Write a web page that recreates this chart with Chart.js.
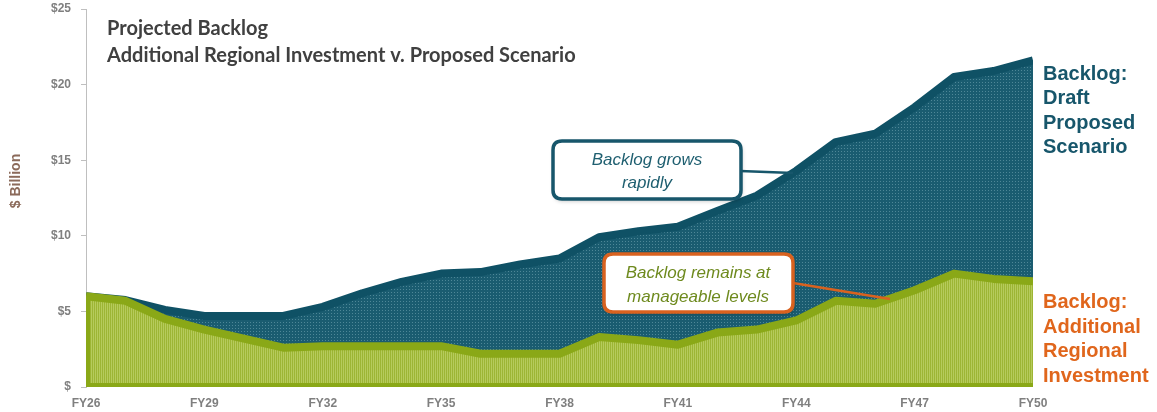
<!DOCTYPE html>
<html>
<head>
<meta charset="utf-8">
<script src="https://cdn.jsdelivr.net/npm/chart.js@4.4.1/dist/chart.umd.min.js"></script>
<style>
  html, body { margin: 0; padding: 0; background: #ffffff; }
  #wrap { width: 1157px; height: 412px; position: relative; }
</style>
</head>
<body>
<div id="wrap"><canvas id="c" width="1157" height="412"></canvas></div>
<script>
// ---- Data ----
const categories = ['FY26','FY27','FY28','FY29','FY30','FY31','FY32','FY33','FY34','FY35','FY36','FY37','FY38',
                    'FY39','FY40','FY41','FY42','FY43','FY44','FY45','FY46','FY47','FY48','FY49','FY50'];
const additionalRegionalInvestment = [6.0, 5.7, 4.5, 3.8, 3.2, 2.6, 2.7, 2.7, 2.7, 2.7, 2.2, 2.2, 2.2,
                                      3.3, 3.1, 2.8, 3.6, 3.8, 4.4, 5.7, 5.5, 6.4, 7.5, 7.15, 7.0];
const draftProposedScenario = [6.0, 5.75, 5.1, 4.7, 4.7, 4.7, 5.3, 6.2, 6.95, 7.5, 7.6, 8.1, 8.5,
                               9.9, 10.3, 10.6, 11.65, 12.65, 14.3, 16.2, 16.75, 18.5, 20.5, 20.9, 21.6];
const yTicks = [0, 5, 10, 15, 20, 25];
const shownXLabels = ['FY26','FY29','FY32','FY35','FY38','FY41','FY44','FY47','FY50'];

const titleLines = ['Projected Backlog', 'Additional Regional Investment v. Proposed Scenario'];
const yTitle = '$ Billion';
const blueLabel = ['Backlog:', 'Draft', 'Proposed', 'Scenario'];
const orangeLabel = ['Backlog:', 'Additional', 'Regional', 'Investment'];
const noteGrow = ['Backlog grows', 'rapidly'];
const noteManage = ['Backlog remains at', 'manageable levels'];

// ---- Textured fills ----
function makePattern(w, h, draw) {
  const c = document.createElement('canvas');
  c.width = w; c.height = h;
  const x = c.getContext('2d');
  draw(x);
  return x.createPattern(c, 'repeat');
}
const ctx = document.getElementById('c').getContext('2d');
const bluePattern = makePattern(3, 3, x => {
  x.fillStyle = '#1a5c70'; x.fillRect(0, 0, 3, 3);
  x.fillStyle = '#4e8797'; x.fillRect(1, 1, 1, 1);
});
const greenPattern = makePattern(2, 2, x => {
  x.fillStyle = '#9db534'; x.fillRect(0, 0, 2, 2);
  x.fillStyle = '#b6cb5c'; x.fillRect(1, 0, 1, 2);
});

const BLUE_EDGE = '#0f5165';
const GREEN_EDGE = '#8aa817';

// ---- Decoration plugin ----
function roundRect(c, x, y, w, h, r) {
  c.beginPath();
  c.moveTo(x + r, y);
  c.lineTo(x + w - r, y);
  c.quadraticCurveTo(x + w, y, x + w, y + r);
  c.lineTo(x + w, y + h - r);
  c.quadraticCurveTo(x + w, y + h, x + w - r, y + h);
  c.lineTo(x + r, y + h);
  c.quadraticCurveTo(x, y + h, x, y + h - r);
  c.lineTo(x, y + r);
  c.quadraticCurveTo(x, y, x + r, y);
  c.closePath();
}

const deco = {
  id: 'deco',
  afterDatasetsDraw(chart) {
    const c = chart.ctx, a = chart.chartArea;
    const ys = chart.scales.y;
    c.save();
    c.fillStyle = GREEN_EDGE;
    c.fillRect(a.left, a.bottom - 4, a.right - a.left, 4);
    const yTop = ys.getPixelForValue(additionalRegionalInvestment[0]);
    c.fillRect(a.left, yTop, 4, a.bottom - yTop);
    c.restore();
  },
  afterDraw(chart) {
    const c = chart.ctx;
    c.save();
    // Title
    c.fillStyle = '#404040';
    c.textBaseline = 'alphabetic';
    c.textAlign = 'left';
    c.font = 'bold 20px Lato, "DejaVu Sans", sans-serif';
    const w2 = c.measureText(titleLines[1]).width;
    const sx = Math.min(1, 499 / w2);
    c.save();
    c.translate(107, 0);
    c.scale(sx, 1);
    c.fillText(titleLines[0], 0, 35);
    c.fillText(titleLines[1], 0, 62);
    c.restore();

    // Y axis title
    c.save();
    c.translate(16, 181);
    c.rotate(-Math.PI / 2);
    c.textAlign = 'center';
    c.textBaseline = 'middle';
    c.fillStyle = '#8b6a5a';
    c.font = 'bold 14px "Liberation Sans", Arial, sans-serif';
    c.fillText(yTitle, 0, 0);
    c.restore();

    // Right side labels
    c.font = 'bold 20px "Liberation Sans", Arial, sans-serif';
    c.textAlign = 'left';
    c.fillStyle = '#17566b';
    blueLabel.forEach((t, i) => c.fillText(t, 1043, 80 + i * 24.3));
    c.fillStyle = '#e0661c';
    orangeLabel.forEach((t, i) => c.fillText(t, 1043, 308 + i * 24.5));

    // Connectors
    c.lineCap = 'butt';
    c.strokeStyle = '#17566b';
    c.lineWidth = 2.5;
    c.beginPath(); c.moveTo(740, 171); c.lineTo(793, 173); c.stroke();
    c.strokeStyle = '#d9621f';
    c.lineWidth = 2.5;
    c.beginPath(); c.moveTo(793, 283); c.lineTo(890, 299); c.stroke();

    // Callout boxes
    function box(x, y, w, h, stroke) {
      c.save();
      c.shadowColor = 'rgba(0,0,0,0.25)';
      c.shadowBlur = 4;
      c.shadowOffsetX = 1;
      c.shadowOffsetY = 2;
      roundRect(c, x, y, w, h, 9);
      c.fillStyle = '#ffffff';
      c.fill();
      c.restore();
      roundRect(c, x, y, w, h, 9);
      c.strokeStyle = stroke;
      c.lineWidth = 3.5;
      c.stroke();
    }
    box(553, 141, 188, 58, '#17566b');
    box(604, 254, 189, 58, '#d9621f');

    c.font = 'italic 17px "Liberation Sans", Arial, sans-serif';
    c.textAlign = 'center';
    c.fillStyle = '#1f5f70';
    c.fillText(noteGrow[0], 647, 165);
    c.fillText(noteGrow[1], 647, 188);
    c.fillStyle = '#6e8a1e';
    c.fillText(noteManage[0], 698, 278);
    c.fillText(noteManage[1], 698, 302);
    c.restore();
  }
};

new Chart(ctx, {
  type: 'line',
  data: {
    labels: categories,
    datasets: [
      {
        label: 'Backlog: Additional Regional Investment',
        data: additionalRegionalInvestment,
        borderColor: GREEN_EDGE,
        backgroundColor: greenPattern,
        borderWidth: 8,
        borderJoinStyle: 'round',
        fill: 'origin',
        tension: 0,
        pointRadius: 0,
        clip: 0,
        order: 0
      },
      {
        label: 'Backlog: Draft Proposed Scenario',
        data: draftProposedScenario,
        borderColor: BLUE_EDGE,
        backgroundColor: bluePattern,
        borderWidth: 8,
        borderJoinStyle: 'round',
        fill: 'origin',
        tension: 0,
        pointRadius: 0,
        clip: 0,
        order: 1
      }
    ]
  },
  options: {
    responsive: false,
    animation: false,
    devicePixelRatio: 1,
    layout: { padding: { top: 9, right: 124, left: 0, bottom: 0 } },
    plugins: { legend: { display: false }, tooltip: { enabled: false }, title: { display: false } },
    scales: {
      x: {
        type: 'category',
        offset: false,
        grid: { display: false, drawTicks: false },
        border: { display: false },
        ticks: {
          autoSkip: false,
          maxRotation: 0,
          padding: 9,
          color: '#7f7f7f',
          font: { family: '"Liberation Sans", Arial, sans-serif', size: 12, weight: 'bold' },
          callback: function(v, i) {
            const l = categories[i];
            return shownXLabels.includes(l) ? l : null;
          }
        },
        afterFit(s) { s.height = 25; }
      },
      y: {
        min: 0, max: 25,
        afterBuildTicks(s) { s.ticks = yTicks.map(v => ({ value: v })); },
        grid: { drawOnChartArea: false, drawTicks: true, tickLength: 5, color: '#bfbfbf' },
        border: { display: true, color: '#bfbfbf', width: 1 },
        ticks: {
          padding: 10,
          color: '#7f7f7f',
          font: { family: '"Liberation Sans", Arial, sans-serif', size: 12, weight: 'bold' },
          callback: v => v === 0 ? '$' : '$' + v
        },
        afterFit(s) { s.width = 86; s.paddingTop = 0; s.paddingBottom = 0; }
      }
    }
  },
  plugins: [deco]
});
</script>
</body>
</html>
